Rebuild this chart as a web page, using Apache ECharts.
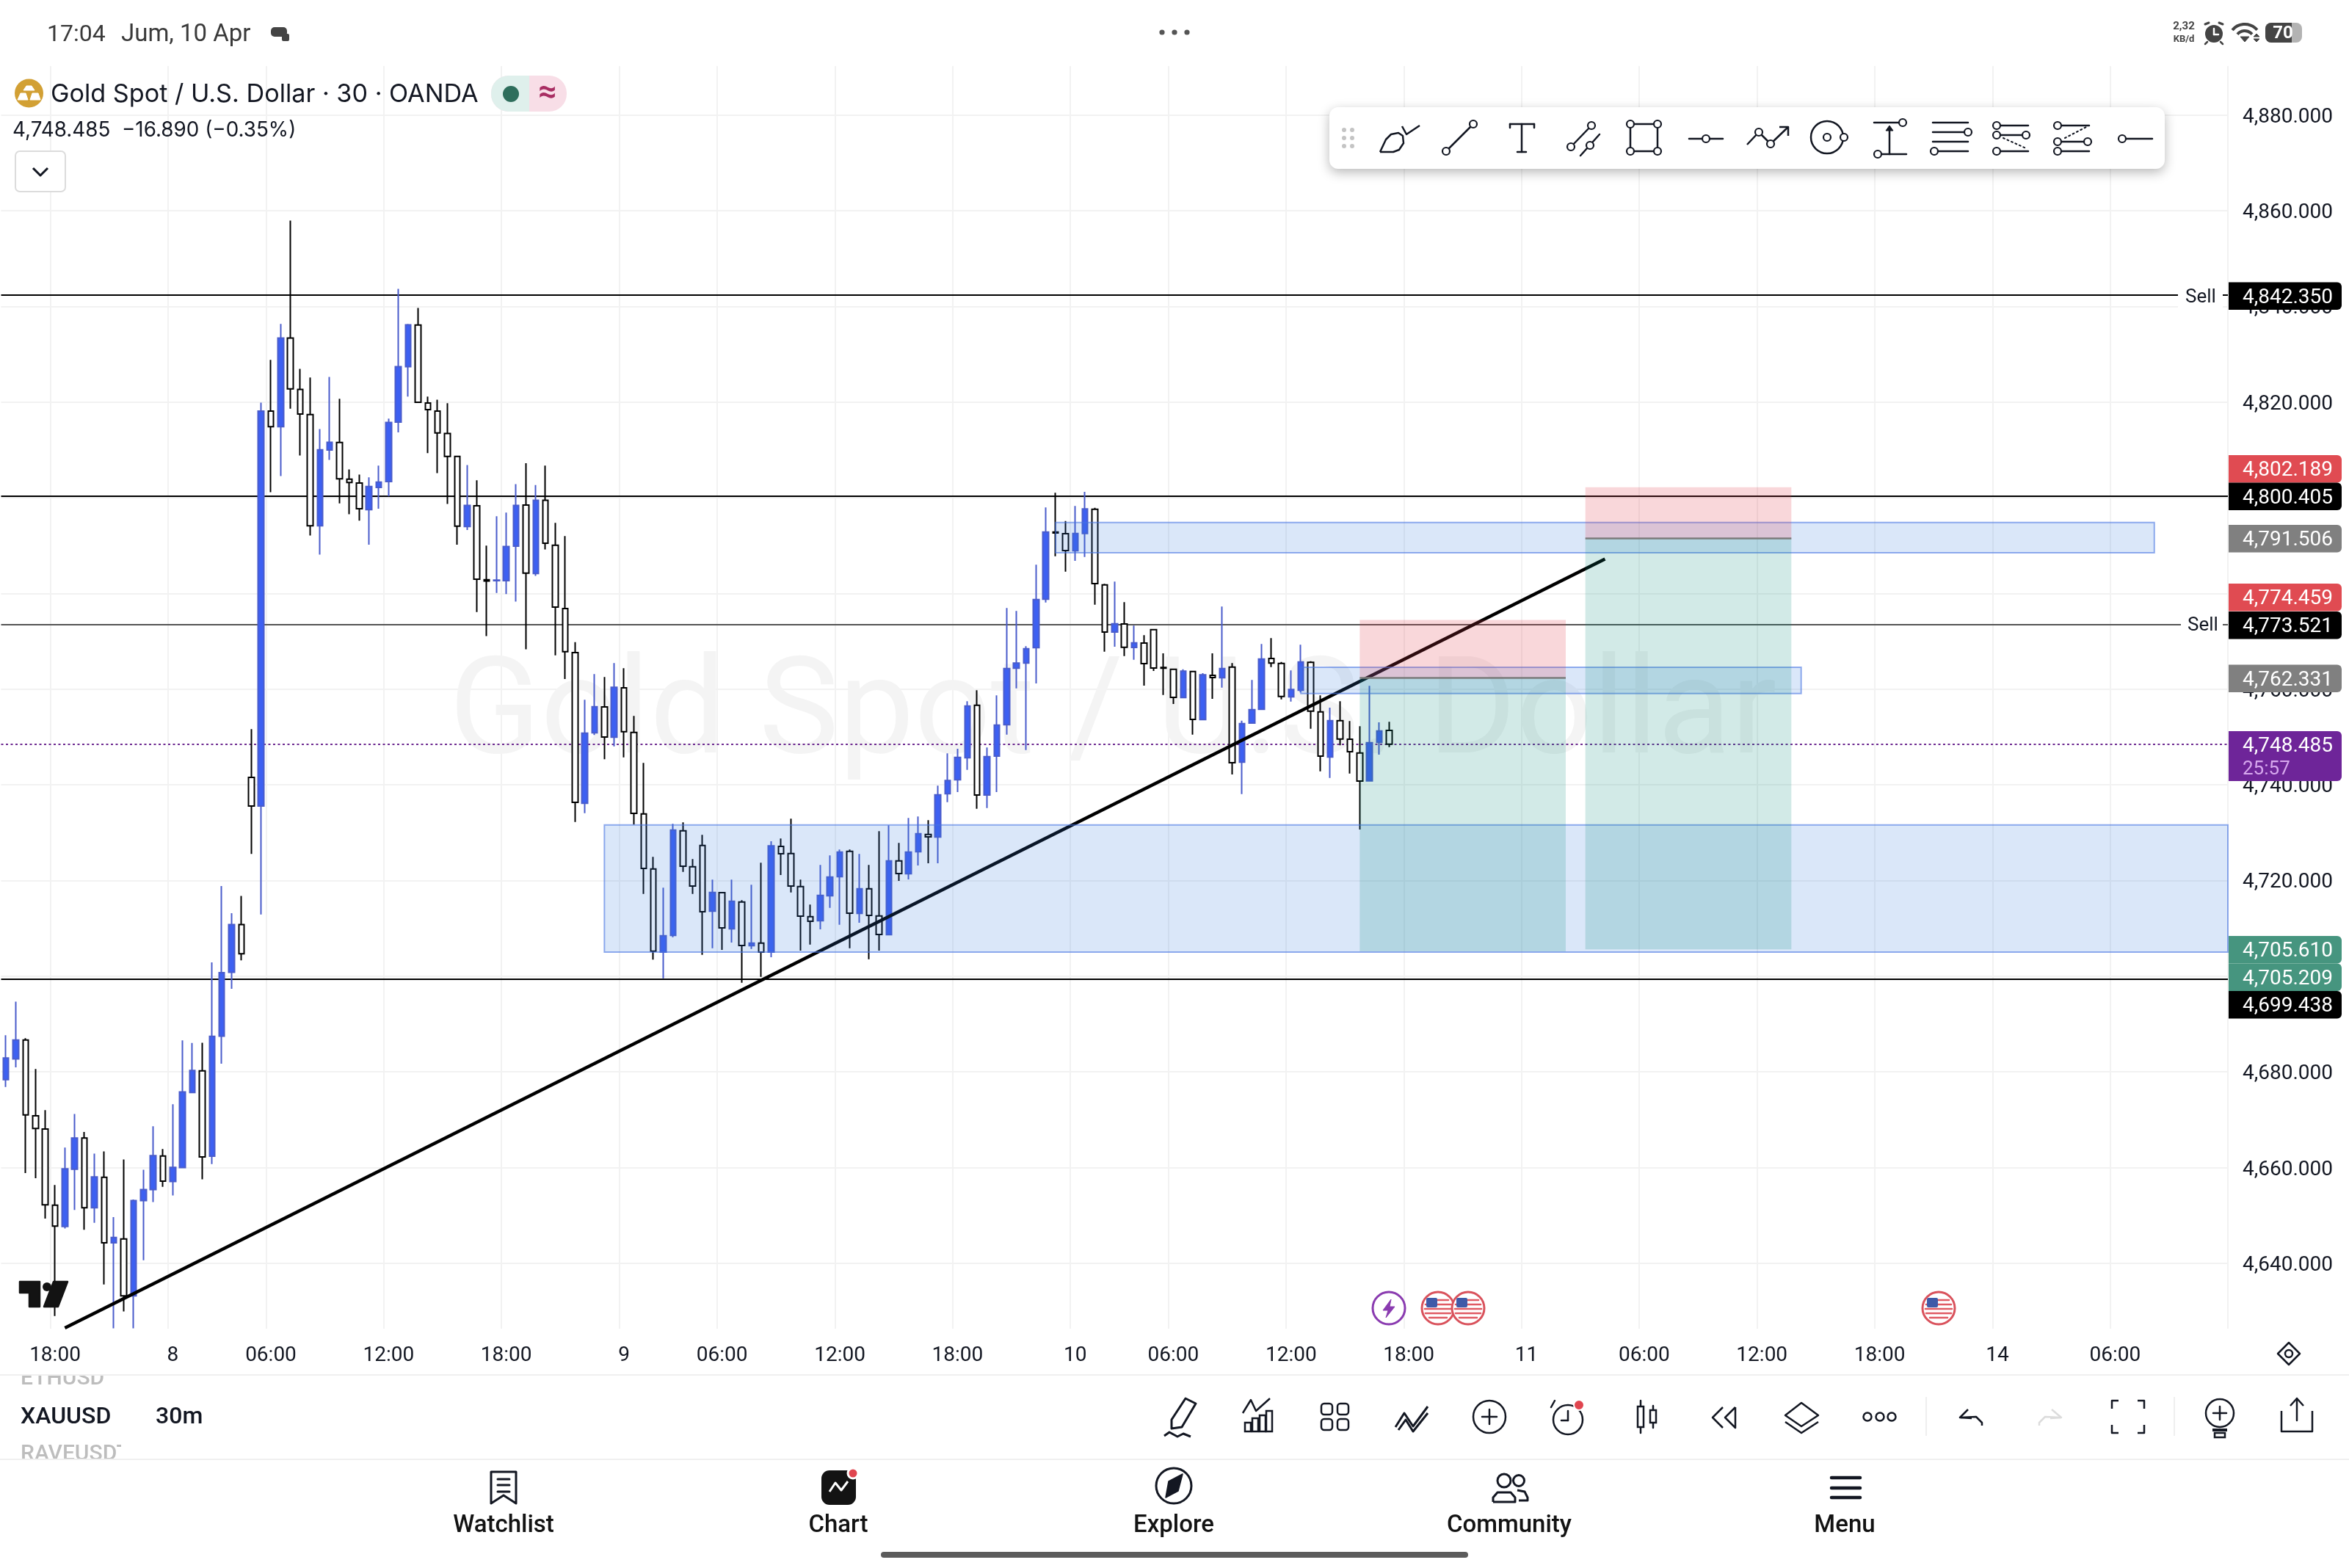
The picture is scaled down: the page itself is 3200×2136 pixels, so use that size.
<!DOCTYPE html>
<html>
<head>
<meta charset="utf-8">
<title>XAUUSD 30m</title>
<style>html,body{margin:0;padding:0;background:#fff}#chart{width:3200px;height:2136px}</style>
<script src="https://cdn.jsdelivr.net/npm/echarts@6/dist/echarts.min.js"></script>
</head>
<body>
<div id="chart"></div>
<script>
// Half-hour gold candles, oldest first.
const opens = [
4678.40,4682.72,4686.67,4670.82,4668.07,4652.16,4647.71,4659.67,4666.19,4651.60,
4657.98,4644.27,4645.08,4633.18,4653.10,4655.42,4662.43,4657.11,4659.99,4675.71,
4680.22,4662.37,4687.48,4700.82,4710.78,4741.56,4735.57,4818.12,4814.86,4833.40,
4822.63,4817.37,4794.13,4809.98,4811.54,4803.90,4803.09,4797.52,4802.15,4803.40,
4815.80,4827.39,4836.09,4819.81,4818.12,4813.42,4808.66,4794.01,4798.33,4782.86,
4782.67,4782.67,4789.88,4798.46,4784.18,4799.46,4790.06,4776.85,4767.64,4736.14,
4750.87,4756.29,4749.94,4760.28,4750.97,4733.94,4722.43,4705.04,4708.52,4730.41,
4722.89,4727.34,4713.58,4717.47,4709.90,4715.52,4706.37,4706.93,4705.04,4727.13,
4725.65,4718.75,4712.46,4711.59,4716.80,4720.79,4726.11,4713.12,4718.29,4712.61,
4708.67,4724.12,4721.41,4726.01,4729.64,4729.08,4738.13,4741.04,4745.65,4756.64,
4737.87,4746.01,4752.55,4764.37,4765.44,4768.66,4778.79,4792.85,4792.50,4788.92,
4792.55,4797.61,4781.81,4771.94,4773.62,4768.71,4769.63,4772.45,4764.52,4764.16,
4758.23,4763.70,4753.63,4762.88,4762.37,4764.62,4744.73,4752.91,4755.77,4766.41,
4765.39,4758.38,4759.76,4765.59,4755.26,4745.80,4753.42,4749.53,4746.67,4740.84,4748.87,4751.38];
const closes = [
4682.91,4686.67,4671.01,4668.19,4652.22,4647.78,4659.74,4666.19,4651.60,4658.05,
4644.27,4645.40,4633.18,4653.10,4655.42,4662.49,4657.17,4660.05,4675.83,4680.28,
4662.24,4687.42,4700.76,4710.78,4704.70,4735.57,4818.12,4814.86,4833.40,4822.75,
4817.49,4794.13,4810.04,4811.61,4803.97,4803.21,4797.70,4802.34,4803.28,4815.74,
4827.39,4836.16,4819.94,4818.43,4813.55,4808.66,4794.07,4798.39,4782.99,4782.61,
4782.80,4789.81,4798.39,4784.24,4799.46,4790.50,4777.16,4767.83,4736.34,4750.81,
4756.34,4750.00,4760.38,4751.12,4734.04,4722.53,4705.24,4708.47,4730.56,4722.99,
4718.85,4713.48,4717.52,4710.10,4715.68,4706.42,4706.93,4705.04,4727.24,4725.60,
4718.85,4712.56,4711.48,4716.91,4720.74,4725.96,4713.17,4718.29,4712.71,4708.72,
4724.12,4721.46,4725.96,4729.79,4729.13,4737.93,4740.89,4745.75,4756.49,4737.87,
4745.90,4752.50,4764.31,4765.44,4768.46,4778.74,4792.85,4792.65,4788.97,4792.55,
4797.66,4782.06,4771.94,4773.67,4768.76,4769.69,4765.34,4764.42,4764.37,4758.28,
4763.75,4753.68,4762.99,4762.42,4764.31,4744.62,4752.81,4755.72,4766.31,4765.44,
4758.48,4759.92,4765.70,4755.42,4746.01,4753.42,4749.59,4746.93,4740.79,4748.82,4751.27,4748.485];
const lows = [
4676.83,4680.97,4658.86,4657.80,4649.34,4628.99,4647.27,4651.16,4647.02,4648.46,
4635.56,4626.40,4629.93,4626.40,4640.64,4652.79,4655.98,4654.16,4659.99,4675.71,
4657.54,4660.74,4681.72,4697.37,4703.32,4725.55,4712.91,4801.15,4804.53,4818.62,
4808.85,4792.13,4788.12,4807.91,4798.83,4796.58,4795.20,4790.19,4797.70,4800.33,
4813.67,4821.13,4819.94,4809.35,4805.16,4798.70,4790.19,4793.26,4776.10,4771.09,
4780.11,4779.86,4778.29,4768.33,4783.68,4789.19,4767.08,4762.10,4732.25,4734.09,
4750.40,4745.34,4748.05,4745.75,4731.69,4717.21,4703.45,4699.57,4708.16,4721.82,
4717.21,4704.48,4705.86,4705.50,4707.03,4698.65,4705.70,4699.87,4703.97,4721.15,
4717.52,4705.35,4706.63,4709.80,4714.30,4710.77,4705.86,4711.18,4703.56,4705.35,
4708.67,4719.92,4720.23,4723.14,4723.61,4723.61,4736.39,4738.49,4743.14,4735.01,
4735.16,4738.49,4750.51,4760.17,4747.28,4761.20,4778.12,4787.79,4784.57,4786.82,
4787.64,4777.66,4767.84,4768.87,4766.92,4766.16,4760.74,4763.80,4758.79,4756.90,
4758.23,4750.51,4753.63,4757.97,4760.33,4742.17,4738.08,4752.91,4755.77,4764.62,
4757.87,4757.41,4759.30,4751.73,4742.83,4741.45,4748.26,4742.37,4730.66,4740.74,4746.31,4747.90];
const highs = [
4687.67,4694.68,4687.04,4680.59,4672.01,4656.36,4664.18,4671.20,4667.44,4662.93,
4663.37,4649.65,4661.68,4653.35,4659.55,4668.63,4663.87,4673.26,4686.60,4686.04,
4686.10,4702.89,4718.86,4713.16,4716.79,4751.64,4819.87,4828.83,4836.34,4857.95,
4826.95,4825.13,4814.36,4825.26,4820.69,4805.91,4804.84,4804.28,4806.72,4816.55,
4843.67,4836.34,4839.66,4821.13,4820.50,4819.75,4808.66,4806.85,4803.65,4790.00,
4796.14,4796.89,4802.84,4807.22,4802.65,4806.72,4794.76,4792.00,4769.84,4757.77,
4763.14,4762.53,4765.44,4764.37,4754.39,4744.57,4724.93,4718.49,4731.84,4732.15,
4724.47,4729.54,4720.18,4717.47,4720.18,4715.88,4719.10,4723.71,4728.21,4728.77,
4732.91,4720.18,4714.96,4723.25,4725.24,4726.47,4726.47,4725.55,4723.25,4730.30,
4731.53,4727.85,4733.07,4733.37,4732.61,4739.82,4746.57,4747.54,4757.46,4759.76,
4747.80,4758.69,4776.95,4776.33,4768.97,4786.00,4797.97,4801.04,4795.16,4798.28,
4801.24,4797.92,4782.01,4782.47,4778.18,4773.27,4771.27,4772.50,4767.49,4764.16,
4764.16,4763.70,4763.34,4767.49,4777.25,4765.44,4753.42,4761.91,4769.43,4770.66,
4765.70,4763.91,4769.28,4765.85,4758.69,4756.13,4757.46,4753.32,4752.25,4760.68,4753.06,4753.17];

// Bar slots on the time axis; the right part stays empty for the projections.
const slotCount = 227;
const timeTicks = {5:'18:00',17:'8',27:'06:00',39:'12:00',51:'18:00',63:'9',73:'06:00',85:'12:00',97:'18:00',
  109:'10',119:'06:00',131:'12:00',143:'18:00',155:'11',167:'06:00',179:'12:00',191:'18:00',203:'14',215:'06:00'};
const priceTicks = [4640,4660,4680,4700,4720,4740,4760,4780,4800,4820,4840,4860,4880];
const priceMin = 4626.33, priceMax = 4890.23;

// Horizontal levels, last price and the drawn trend line.
const sellHigh = 4842.350, resistance = 4800.405, sellLow = 4773.521, support = 4699.438, lastPrice = 4748.485;
const trendStart = [6, 4626.48], trendEnd = [163, 4787.2];

// Supply and demand boxes: first slot, last slot, top price, bottom price.
const zoneRows = [
  [61, 226, 4731.63, 4705.04],
  [107, 219, 4794.84, 4788.50],
  [132, 183, 4764.57, 4759.10]
];
// Short setups: first slot, last slot, stop, entry, target.
const setupRows = [
  [138, 159, 4774.459, 4762.331, 4705.209],
  [161, 182, 4802.189, 4791.506, 4705.610]
];

const fmtPrice = v => v.toLocaleString('en-US', {minimumFractionDigits: 3, maximumFractionDigits: 3});
const categories = Array.from({length: slotCount}, (_, i) => 'c' + i);
const hasTick = i => timeTicks[i] !== undefined;
const candleData = opens.map((o, i) => [o, closes[i], lows[i], highs[i]]);

const INK = '#131722';
const ui = [];
const FONT = 'Roboto, sans-serif';

// Small drawing helpers for the app chrome around the plot.
function txt(x, y, text, size, opt) {
  opt = opt || {};
  ui.push({type: 'text', x: x, y: y, z: opt.z || 60, silent: true, style: {
    text: text, fill: opt.fill || INK, font: (opt.weight || '400') + ' ' + size + 'px ' + (opt.family || FONT),
    textAlign: opt.align || 'left', textVerticalAlign: 'middle'}});
}
function ln(x1, y1, x2, y2, w, c, dash) {
  ui.push({type: 'line', z: 60, silent: true, shape: {x1: x1, y1: y1, x2: x2, y2: y2},
    style: {stroke: c || INK, lineWidth: w || 2.5, lineDash: dash, lineCap: 'round'}});
}
function pl(points, w, c, closed, fill) {
  ui.push({type: closed ? 'polygon' : 'polyline', z: 60, silent: true, shape: {points: points},
    style: {stroke: c || INK, lineWidth: w || 2.5, fill: fill || (closed ? '#fff' : 'none'), lineJoin: 'round'}});
}
function circ(x, y, r, o) {
  o = o || {};
  ui.push({type: 'circle', z: o.z || 60, silent: true, shape: {cx: x, cy: y, r: r},
    style: {stroke: o.stroke === undefined ? INK : o.stroke, lineWidth: o.w === undefined ? 2.5 : o.w, fill: o.fill || '#fff'}});
}
function box(x, y, w, h, o) {
  o = o || {};
  ui.push({type: 'rect', z: o.z || 60, silent: true, shape: {x: x, y: y, width: w, height: h, r: o.r || 0},
    style: Object.assign({stroke: o.stroke || null, lineWidth: o.w || 0, fill: o.fill === undefined ? '#fff' : o.fill}, o.extra || {})});
}
const knob = (x, y) => circ(x, y, 5, {w: 2.2});

// Background ticker name behind the candles.
ui.push({type: 'text', x: 1516, y: 979, z: 1, silent: true, style: {text: 'Gold Spot / U.S. Dollar', fill: '#f4f4f4',
  font: '400 183px ' + FONT, textAlign: 'center', textVerticalAlign: 'middle'}});

// Status bar.
txt(64, 48, '17:04', 32, {fill: '#3a3a3a'});
txt(165, 48, 'Jum, 10 Apr', 33, {fill: '#3a3a3a'});
box(369, 37, 22, 13, {fill: '#444', r: 5});
box(384, 46, 10, 10, {fill: '#444', r: 2});
[1583, 1600, 1617].forEach(x => circ(x, 44, 3.6, {stroke: null, w: 0, fill: '#555'}));
txt(2975, 36, '2,32', 15, {fill: '#444', weight: '700', align: 'center'});
txt(2975, 54, 'KB/d', 13, {fill: '#444', weight: '700', align: 'center'});
circ(3016, 46, 12, {stroke: null, w: 0, fill: '#444'});
ln(3016, 39, 3016, 47, 2.5, '#fff'); ln(3016, 47, 3022, 47, 2.5, '#fff');
ln(3004, 33, 3009, 31, 3, '#444'); ln(3023, 31, 3028, 33, 3, '#444');
ln(3007, 57, 3004, 60, 2.5, '#444'); ln(3025, 57, 3028, 60, 2.5, '#444');
ui.push({type: 'arc', z: 60, silent: true, shape: {cx: 3058, cy: 55, r: 22, startAngle: -2.45, endAngle: -0.7},
  style: {stroke: '#444', lineWidth: 4, fill: 'none'}});
ui.push({type: 'arc', z: 60, silent: true, shape: {cx: 3058, cy: 55, r: 13, startAngle: -2.45, endAngle: -0.7},
  style: {stroke: '#444', lineWidth: 4, fill: 'none'}});
pl([[3052, 50], [3064, 50], [3058, 57]], 1, '#444', true, '#444');
pl([[3070, 50], [3078, 50], [3074, 46]], 1, '#444', true, '#444');
pl([[3070, 53], [3078, 53], [3074, 57]], 1, '#444', true, '#444');
box(3086, 31, 50, 27, {fill: '#b3b3b3', r: 8});
box(3086, 31, 36, 27, {fill: '#444', r: [8, 0, 0, 8]});
txt(3110, 46, '70', 24, {fill: '#fff', weight: '700', align: 'center'});

// Symbol header.
circ(39.5, 127, 19.5, {stroke: null, w: 0, fill: '#d2a034'});
pl([[32, 123], [47, 123], [43, 117], [36, 117]], 1, '#fff', true, '#fff');
pl([[24, 136], [38, 136], [35, 127], [28, 127]], 1, '#fff', true, '#fff');
pl([[41, 136], [55, 136], [52, 127], [44, 127]], 1, '#fff', true, '#fff');
txt(69, 129, 'Gold Spot / U.S. Dollar · 30 · OANDA', 34.2, {family: 'Inter, sans-serif', fill: '#131722'});
box(669, 103, 103, 49, {fill: '#f8dee7', r: 24});
box(669, 103, 52, 49, {fill: '#dff0ec', r: [24, 0, 0, 24]});
circ(696, 128, 11, {stroke: null, w: 0, fill: '#2e6e5c'});
txt(746, 128, '≈', 44, {fill: '#a82d62', weight: '700', align: 'center'});
txt(17, 178, '4,748.485  −16.890 (−0.35%)', 27.8, {family: 'Inter, sans-serif', fill: '#131722'});
box(21, 206, 68, 55, {stroke: '#dcdcdc', w: 2, r: 6});
pl([[45, 229], [55, 239], [65, 229]], 3);

// Platform logo in the lower left of the plot.
pl([[27, 1746], [54, 1746], [54, 1780], [40, 1780], [40, 1761], [27, 1761]], 0, '#131313', true, '#131313');
circ(64, 1753, 6, {stroke: null, w: 0, fill: '#131313'});
pl([[73, 1746], [92, 1746], [79, 1780], [60, 1780]], 0, '#131313', true, '#131313');

// Drawing tools palette.
box(1811, 146, 1138, 84, {r: 12, extra: {shadowBlur: 16, shadowColor: 'rgba(0,0,0,0.28)', shadowOffsetY: 5}});
[1831, 1842].forEach(x => [177, 188, 199].forEach(y => circ(x, y, 3, {stroke: null, w: 0, fill: '#c4c4c4'})));
pl([[1880, 207], [1888, 190], [1895, 183], [1905, 181], [1911, 185], [1912, 195], [1906, 204], [1898, 207], [1880, 207]]);
pl([[1910, 172], [1916, 183], [1934, 171]]);
ln(1970, 206, 2007, 169); knob(1970, 206); knob(2007, 169);
ln(2057, 169, 2090, 169); ln(2073, 169, 2073, 207); ln(2067, 207, 2079, 207); ln(2057, 169, 2057, 174); ln(2090, 169, 2090, 174);
ln(2140, 200, 2168, 171); knob(2140, 200); knob(2168, 171);
ln(2153, 212, 2179, 183); knob(2166, 198);
ui.push({type: 'rect', z: 60, silent: true, shape: {x: 2221, y: 169, width: 37, height: 37}, style: {stroke: INK, lineWidth: 2.5, fill: 'none'}});
knob(2221, 169); knob(2258, 169); knob(2221, 206); knob(2258, 206);
ln(2301, 189, 2347, 189); knob(2324, 189);
pl([[2380, 197], [2396, 180], [2412, 196], [2436, 173]]); pl([[2424, 173], [2436, 173], [2436, 185]]);
knob(2396, 180); knob(2412, 196);
circ(2489, 187, 22, {fill: 'rgba(255,255,255,0)'}); knob(2489, 187); knob(2512, 187);
ln(2553, 167, 2592, 167); ln(2562, 210, 2597, 210); knob(2592, 167); knob(2558, 210);
ln(2574, 210, 2574, 174); pl([[2569, 178], [2579, 178], [2574, 171]], 1, INK, true, INK);
[167, 180, 193, 206].forEach(y => ln(2633, y, 2681, y)); knob(2681, 180); knob(2635, 206);
[171, 184, 206].forEach(y => ln(2720, y, 2763, y)); knob(2720, 171); knob(2720, 184); knob(2720, 206); knob(2760, 184);
ln(2729, 188, 2760, 202, 2, INK, [2, 4]);
[171, 193, 206].forEach(y => ln(2803, y, 2846, y)); knob(2803, 171); knob(2803, 193); knob(2803, 206); knob(2844, 193);
ln(2813, 188, 2844, 172, 2, INK, [2, 4]);
ln(2891, 189, 2932, 189); knob(2891, 189);

// Events on the timeline.
circ(1892, 1782, 22, {stroke: '#8a3bb0', w: 3});
pl([[1895, 1770], [1884, 1785], [1891, 1785], [1888, 1795], [1900, 1780], [1893, 1780]], 1, '#8a3bb0', true, '#8a3bb0');
[1959, 2000, 2641].forEach(x => {
  circ(x, 1782, 22, {stroke: '#d9525c', w: 3});
  [1771, 1777, 1783, 1789, 1795].forEach((y, k) => {
    const half = [14, 17, 18, 17, 12][k];
    ln(x - half, y, x + half, y, 2.6, '#e05a63');
  });
  box(x - 16, 1768, 15, 13, {fill: '#3f5aa8', r: 2});
});

// Separators and panels under the plot.
txt(28, 1878, 'ETHUSD', 30, {fill: '#bdbdbd', weight: '500'});
box(0, 1860, 200, 12, {fill: '#fff'});
box(0, 1872, 3200, 2, {fill: '#efefef'});
txt(28, 1981, 'RAVEUSDT', 30, {fill: '#bdbdbd', weight: '500'});
box(165, 1965, 40, 22, {fill: '#fff'});
box(0, 1987, 3200, 30, {fill: '#fff'});
box(0, 1987, 3200, 2, {fill: '#efefef'});
txt(28, 1931, 'XAUUSD', 32, {weight: '500'});
txt(212, 1931, '30m', 32, {weight: '500'});

// Bottom action row.
pl([[1615, 1905], [1629, 1912], [1610, 1944], [1596, 1946], [1596, 1934]], 3, INK, true);
pl([[1586, 1956], [1593, 1951], [1604, 1957], [1612, 1953], [1622, 1957]], 3);
pl([[1693, 1925], [1704, 1907], [1711, 1922], [1730, 1905]]);
[[1696, 1938], [1706, 1932], [1716, 1928], [1725, 1922]].forEach(b => box(b[0], b[1], 8, 1950 - b[1], {stroke: INK, w: 2.5, fill: '#fff'}));
[[1800, 1912], [1822, 1912], [1800, 1933], [1822, 1933]].forEach(b => box(b[0], b[1], 15, 15, {stroke: INK, w: 2.5, r: 4}));
pl([[1901, 1944], [1913, 1925], [1925, 1943], [1945, 1916]], 3);
pl([[1905, 1948], [1915, 1934], [1925, 1950], [1945, 1925]], 3);
circ(2029, 1930, 22); ln(2029, 1920, 2029, 1940); ln(2019, 1930, 2039, 1930);
circ(2136, 1934, 20); ln(2136, 1922, 2136, 1935); ln(2136, 1935, 2127, 1935); ln(2113, 1917, 2118, 1908);
circ(2151, 1914, 7, {stroke: '#fff', w: 2, fill: '#e0454f'});
ln(2235, 1908, 2235, 1952); box(2231, 1916, 8, 28, {stroke: INK, w: 2.5});
ln(2252, 1915, 2252, 1945); box(2248, 1921, 8, 17, {stroke: INK, w: 2.5});
pl([[2347, 1917], [2333, 1931], [2347, 1945]]); pl([[2364, 1917], [2350, 1931], [2364, 1945], [2364, 1917]]);
pl([[2454, 1911], [2477, 1928], [2454, 1943], [2432, 1928]], 2.5, INK, true);
pl([[2432, 1937], [2454, 1952], [2477, 1937]]);
[2544, 2561, 2577].forEach(x => circ(x, 1930, 5.5));
box(2623, 1903, 2, 53, {fill: '#efefef'});
pl([[2686, 1932], [2670, 1931], [2681, 1920]]); pl([[2671, 1931], [2692, 1930], [2700, 1938], [2700, 1942]]);
pl([[2795, 1920], [2808, 1931], [2793, 1932]], 2.5, '#dcdcdc'); pl([[2807, 1931], [2786, 1930], [2778, 1938], [2778, 1942]], 2.5, '#dcdcdc');
[[2877, 1908, 1], [2921, 1908, -1]].forEach(c => pl([[c[0] + 9 * c[2], c[1]], [c[0], c[1]], [c[0], c[1] + 11]]));
[[2877, 1952, 1], [2921, 1952, -1]].forEach(c => pl([[c[0] + 9 * c[2], c[1]], [c[0], c[1]], [c[0], c[1] - 11]]));
box(2961, 1903, 2, 53, {fill: '#efefef'});
circ(3024, 1925, 19); ln(3024, 1916, 3024, 1934); ln(3015, 1925, 3033, 1925);
box(3014, 1946, 20, 4, {fill: INK}); box(3017, 1952, 14, 6, {stroke: INK, w: 2.5});
pl([[3108, 1922], [3108, 1950], [3150, 1950], [3150, 1922]]);
ln(3129, 1905, 3129, 1935); pl([[3120, 1915], [3129, 1905], [3138, 1915]]);

// Navigation bar.
pl([[669, 2005], [703, 2005], [703, 2048], [686, 2037], [669, 2048]], 3, INK, true);
[2015, 2023, 2032].forEach(y => ln(678, y, 694, y, 3));
box(1119, 2003, 47, 47, {fill: '#131313', r: 11});
pl([[1130, 2032], [1138, 2020], [1146, 2030], [1155, 2018]], 3, '#fff');
circ(1162, 2007, 7, {stroke: '#fff', w: 3, fill: '#e0454f'});
circ(1599, 2024, 24, {w: 3});
pl([[1611, 2008], [1605, 2031], [1588, 2040], [1592, 2018]], 1.5, INK, true, INK);
circ(2049, 2017, 9, {w: 3}); circ(2069, 2017, 7.5, {w: 3});
pl([[2034, 2046], [2034, 2040], [2040, 2033], [2058, 2033], [2064, 2040], [2064, 2046], [2034, 2046]], 3);
pl([[2067, 2030], [2077, 2032], [2081, 2040], [2081, 2044], [2069, 2044]], 3);
[2013, 2027, 2040].forEach(y => ln(2495, y, 2534, y, 4.5));
[['Watchlist', 686], ['Chart', 1142], ['Explore', 1599], ['Community', 2056], ['Menu', 2513]].forEach(n =>
  txt(n[1], 2079, n[0], 33, {weight: '500', align: 'center', fill: '#131313'}));
box(1200, 2114, 800, 8, {fill: '#5c5c5c', r: 4});

// Chart settings glyph at the axis corner.
pl([[3118, 1829], [3133, 1844], [3118, 1859], [3103, 1844]], 2.5, INK, true);
circ(3118, 1844, 5);

// Sell markers that interrupt the level lines.
[[403, 2967, 2977, sellHigh], [850.7, 2971, 2980, sellLow]].forEach(s => {
  box(s[1], s[0] - 16, 3028 - s[1], 32, {z: 40});
  txt(s[2], s[0] + 2, 'Sell', 26, {z: 41});
});

// Price tags along the right scale. Neighbouring tags are stacked rather than overlapped.
const tagRows = [
  [4842.350, '#000', 384.5],
  [4802.189, '#e04b52', 620],
  [4800.405, '#000', 657.5],
  [4791.506, '#808080', 715],
  [4774.459, '#e04b52', 795],
  [4773.521, '#000', 833],
  [4762.331, '#808080', 905.5],
  [4705.610, '#46957f', 1275],
  [4705.209, '#46957f', 1312.5],
  [4699.438, '#000', 1350]
];
tagRows.forEach(t => {
  box(3036, t[2], 154, 37.5, {z: 70, fill: t[1], r: [0, 6, 6, 0]});
  txt(3055, t[2] + 21, fmtPrice(t[0]), 28, {z: 71, fill: '#fff'});
});
box(3036, 996, 154, 68, {z: 70, fill: '#6e2599', r: [0, 6, 6, 0]});
txt(3055, 1017, fmtPrice(lastPrice), 28, {z: 71, fill: '#fff'});
txt(3055, 1048, '25:57', 26, {z: 71, fill: '#d7a8ee'});

function renderZone(params, api) {
  const cs = params.coordSys;
  const a = api.coord([api.value(0), api.value(2)]);
  const b = api.coord([api.value(1), api.value(3)]);
  const right = api.value(1) >= slotCount - 1 ? cs.x + cs.width : b[0];
  return {type: 'rect', shape: {x: a[0], y: a[1], width: right - a[0], height: b[1] - a[1]},
    style: {fill: 'rgba(50,120,220,0.18)', stroke: 'rgba(70,115,225,0.58)', lineWidth: 2}};
}
function renderSetup(params, api) {
  const a = api.coord([api.value(0), api.value(2)]);
  const m = api.coord([api.value(1), api.value(3)]);
  const t = api.coord([api.value(1), api.value(4)]);
  return {type: 'group', children: [
    {type: 'rect', shape: {x: a[0], y: a[1], width: m[0] - a[0], height: m[1] - a[1]}, style: {fill: 'rgba(225,54,69,0.2)'}},
    {type: 'rect', shape: {x: a[0], y: m[1], width: m[0] - a[0], height: t[1] - m[1]}, style: {fill: 'rgba(8,140,120,0.18)'}},
    {type: 'line', shape: {x1: a[0], y1: m[1], x2: m[0], y2: m[1]}, style: {stroke: '#7a7a7a', lineWidth: 2.5}}
  ]};
}

const level = (v, c, w, type) => ({yAxis: v, lineStyle: {color: c, width: w, type: type || 'solid'}});

const chart = echarts.init(document.getElementById('chart'), null, {renderer: 'canvas'});
chart.setOption({
  animation: false,
  backgroundColor: '#ffffff',
  grid: {left: 1.5, top: 90, width: 3033.5, height: 1720},
  xAxis: {
    type: 'category', data: categories, boundaryGap: true,
    axisLine: {show: false}, axisTick: {show: false},
    axisLabel: {interval: (i) => hasTick(i), formatter: (v, i) => timeTicks[i] || '', margin: 23, fontSize: 28, fontFamily: FONT, color: INK, hideOverlap: false},
    splitLine: {show: true, interval: (i) => hasTick(i), lineStyle: {color: '#f2f2f2', width: 2}}
  },
  yAxis: {
    type: 'value', position: 'right', min: priceMin, max: priceMax, scale: true,
    axisLine: {show: false},
    axisTick: {show: false, customValues: priceTicks},
    axisLabel: {customValues: priceTicks, formatter: (v) => fmtPrice(v), margin: 20, verticalAlign: 'top', lineHeight: 6, fontSize: 28, fontFamily: FONT, color: INK},
    splitLine: {show: true, lineStyle: {color: '#f2f2f2', width: 2}}
  },
  graphic: {elements: ui},
  series: [
    {
      type: 'line', z: 1, data: [], silent: true,
      markLine: {
        silent: true, symbol: 'none', z: 1, animation: false, label: {show: false},
        data: [
          level(sellHigh, '#000', 2), level(resistance, '#000', 2),
          level(sellLow, '#555', 2), level(support, '#000', 2),
          level(lastPrice, '#6e2b91', 2, [3, 3.5])
        ]
      }
    },
    {
      type: 'candlestick', z: 2, data: candleData, barWidth: 8, silent: true,
      itemStyle: {color: '#3d60f2', color0: '#ffffff', borderColor: '#4a5ccb', borderColor0: '#000000', borderWidth: 2}
    },
    {
      type: 'line', z: 4, silent: true, showSymbol: false,
      data: [['c' + trendStart[0], trendStart[1]], ['c' + trendEnd[0], trendEnd[1]]],
      lineStyle: {color: '#000', width: 4.5}
    },
    {type: 'custom', z: 5, silent: true, clip: true, renderItem: renderZone, data: zoneRows, encode: {x: 0, y: 2}},
    {type: 'custom', z: 6, silent: true, clip: true, renderItem: renderSetup, data: setupRows, encode: {x: 0, y: 2}}
  ]
});
</script>
</body>
</html>
